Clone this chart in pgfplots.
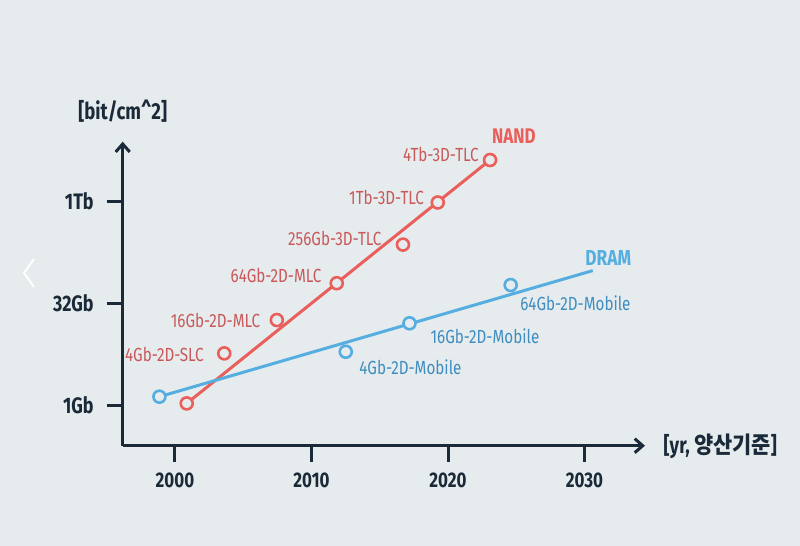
\documentclass[border=0pt]{standalone}
\usepackage{fontspec}
\setmainfont[FakeStretch=0.8]{Fira Sans}
\newfontfamily\krfont[FakeStretch=0.9]{Noto Sans CJK KR}
\usepackage{pgfplots}
\pgfplotsset{compat=1.18}
\usetikzlibrary{arrows.meta}
\definecolor{bg}{HTML}{E6ECEE}
\definecolor{axc}{HTML}{1B2A38}
\definecolor{nandc}{HTML}{EA5F5B}
\definecolor{nandt}{HTML}{C9585A}
\definecolor{dramc}{HTML}{55ADE0}
\definecolor{dramt}{HTML}{3F8DC0}
\begin{document}
\begin{tikzpicture}[x=1pt,y=1pt]
\fill[bg] (0,0) rectangle (400,273);
% carousel chevron
\draw[white, line width=1pt] (17,143.5) -- (12,136.5) -- (17,129.5);
\begin{axis}[
  at={(61.35pt,50.15pt)}, anchor=south west,
  scale only axis, width=261.15pt, height=152pt,
  xmin=1996.17, xmax=2034.43, ymin=-2.0, ymax=12.95,
  axis lines=left,
  axis line style={axc, line width=1.5pt, -{Straight Barb[length=4pt,width=7pt,line width=1.5pt]}},
  clip=false,
  xtick={2000,2010,2020,2030},
  ytick={0,5,10}, yticklabels={1Gb,32Gb,1Tb},
  tick align=outside,
  major tick length=8pt,
  tick style={axc, line width=1.5pt},
  /pgf/number format/assume math mode=true,
  /pgf/number format/1000 sep={},
  xticklabel style={font=\fontsize{10.6}{12}\selectfont\bfseries, text=axc, yshift=-2pt},
  yticklabel style={font=\fontsize{11.2}{12}\selectfont\bfseries, text=axc, xshift=-3pt},
]
% NAND trend line
\addplot[nandc, line width=1.5pt] coordinates {(2000.86,0.08) (2023.08,12.05)};
% DRAM trend line
\addplot[dramc, line width=1.5pt] coordinates {(1998.86,0.41) (2030.60,6.61)};
% NAND points
\addplot[only marks, mark=*, mark size=3pt, mark options={draw=nandc, fill=bg, line width=1.3pt}]
  coordinates {(2000.86,0.08) (2003.61,2.54) (2007.46,4.18) (2011.85,5.99) (2016.70,7.89) (2019.25,9.96) (2023.08,12.05)};
% DRAM points
\addplot[only marks, mark=*, mark size=3pt, mark options={draw=dramc, fill=bg, line width=1.3pt}]
  coordinates {(1998.86,0.41) (2012.51,2.62) (2017.18,4.02) (2024.59,5.90)};
% NAND labels
\begin{scope}[every node/.style={font=\fontsize{9.5}{11}\selectfont, text=nandt, inner sep=0pt, anchor=east}]
\node at (axis cs:2022.27,12.30) {4Tb-3D-TLC};
\node at (axis cs:2018.26,10.22) {1Tb-3D-TLC};
\node at (axis cs:2015.14,8.20) {256Gb-3D-TLC};
\node at (axis cs:2010.75,6.35) {64Gb-2D-MLC};
\node at (axis cs:2006.26,4.15) {16Gb-2D-MLC};
\node at (axis cs:2002.12,2.49) {4Gb-2D-SLC};
\end{scope}
\node[font=\fontsize{10.6}{12}\selectfont\bfseries, text=nandc, inner sep=0pt, anchor=west] at (axis cs:2023.20,13.20) {NAND};
% DRAM labels
\begin{scope}[every node/.style={font=\fontsize{9.5}{11}\selectfont, text=dramt, inner sep=0pt, anchor=west}]
\node at (axis cs:2025.27,5.03) {64Gb-2D-Mobile};
\node at (axis cs:2018.70,3.36) {16Gb-2D-Mobile};
\node at (axis cs:2013.48,1.88) {4Gb-2D-Mobile};
\end{scope}
\node[font=\fontsize{10.8}{12}\selectfont\bfseries, text=dramc, inner sep=0pt, anchor=west] at (axis cs:2030.04,7.22) {DRAM};
% axis labels
\node[font=\fontsize{11.6}{13}\selectfont\bfseries, text=axc, inner sep=0pt] at (axis cs:1996.17,14.43) {[bit/cm\textasciicircum 2]};
\node[font=\fontsize{11.6}{13}\selectfont\bfseries, text=axc, inner sep=0pt, anchor=west] at (axis cs:2035.77,-2.05) {[yr, {\krfont\bfseries 양산기준}]};
\end{axis}
\end{tikzpicture}
\end{document}
